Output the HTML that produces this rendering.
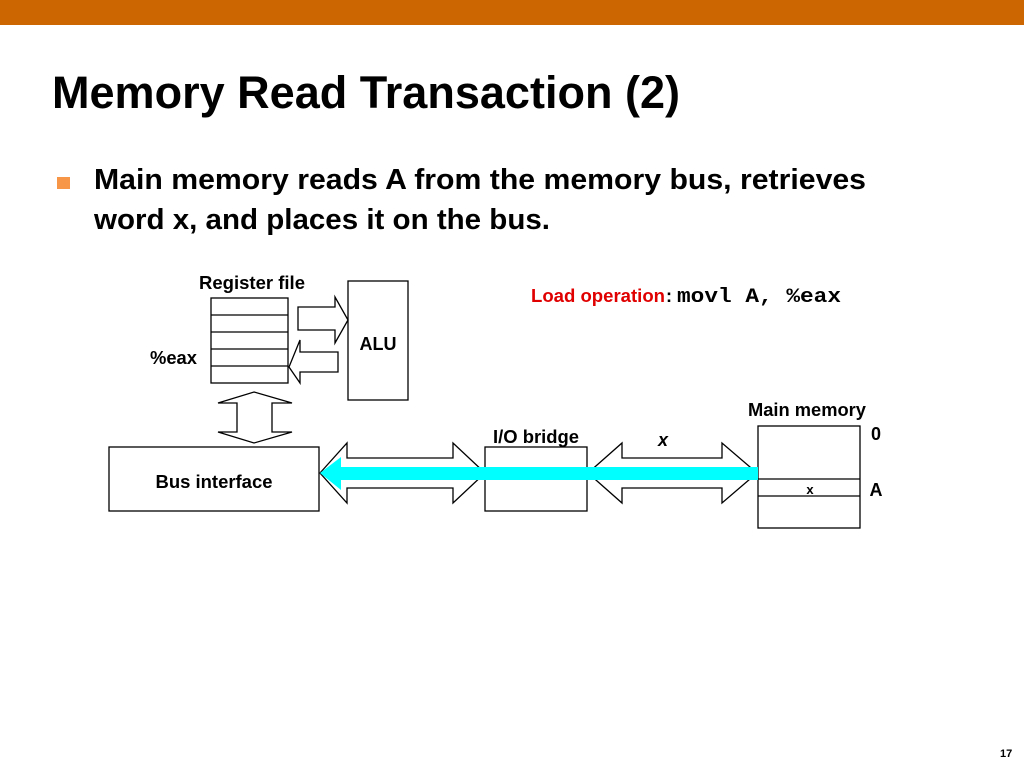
<!DOCTYPE html>
<html><head><meta charset="utf-8"><style>
html,body{margin:0;padding:0;background:#fff;}
svg{display:block;}
text{font-family:"Liberation Sans",Arial,sans-serif;font-weight:bold;}
</style></head><body>
<svg width="1024" height="768" viewBox="0 0 1024 768" xmlns="http://www.w3.org/2000/svg">
<rect x="0" y="0" width="1024" height="25" fill="#cc6600"/>
<text x="52" y="108" font-size="45" textLength="628" lengthAdjust="spacingAndGlyphs">Memory Read Transaction (2)</text>
<rect x="57" y="177" width="13" height="12" fill="#f79646"/>
<text x="94" y="189" font-size="29" textLength="772" lengthAdjust="spacingAndGlyphs">Main memory reads A from the memory bus, retrieves</text>
<text x="94" y="229" font-size="29" textLength="456" lengthAdjust="spacingAndGlyphs">word x, and places it on the bus.</text>

<g fill="none" stroke="#000" stroke-width="1.3">
<rect x="211" y="298" width="77" height="85"/>
<line x1="211" y1="315" x2="288" y2="315"/>
<line x1="211" y1="332" x2="288" y2="332"/>
<line x1="211" y1="349" x2="288" y2="349"/>
<line x1="211" y1="366" x2="288" y2="366"/>
<rect x="348" y="281" width="60" height="119"/>
<polygon points="298,307 335,307 335,297 348,320 335,343 335,330 298,330"/>
<polygon points="338,352 300,352 300,340 289,367 300,383 300,372 338,372"/>
<polygon points="254,392 292,403 272,403 272,432 292,432 254,443 218,432 237,432 237,403 218,403"/>
<rect x="109" y="447" width="210" height="64"/>
<polygon points="320,473 347,443 347,458 453,458 453,443 485,473 453,503 453,488 347,488 347,503"/>
<rect x="485" y="447" width="102" height="64"/>
<polygon points="588,473 622,443 622,458 722,458 722,443 757,473 722,503 722,488 622,488 622,503"/>
<rect x="758" y="426" width="102" height="102"/>
<line x1="758" y1="479" x2="860" y2="479"/>
<line x1="758" y1="496" x2="860" y2="496"/>
</g>
<rect x="338" y="467" width="420" height="13" fill="#00ffff"/>
<polygon points="320,473 341,457 341,490" fill="#00ffff"/>

<g font-size="18">
<text x="252" y="289" text-anchor="middle" textLength="106" lengthAdjust="spacingAndGlyphs">Register file</text>
<text x="150" y="364" textLength="47" lengthAdjust="spacingAndGlyphs">%eax</text>
<text x="378" y="350" text-anchor="middle">ALU</text>
<text x="214" y="488" text-anchor="middle" textLength="117" lengthAdjust="spacingAndGlyphs">Bus interface</text>
<text x="536" y="443" text-anchor="middle" textLength="86" lengthAdjust="spacingAndGlyphs">I/O bridge</text>
<text x="663" y="446" text-anchor="middle" font-style="italic">x</text>
<text x="807" y="416" text-anchor="middle" textLength="118" lengthAdjust="spacingAndGlyphs">Main memory</text>
<text x="876" y="440" text-anchor="middle">0</text>
<text x="876" y="496" text-anchor="middle">A</text>
<text x="531" y="302" fill="#e00000" textLength="134" lengthAdjust="spacingAndGlyphs">Load operation</text>
<text x="666" y="302">:</text>
<text x="677" y="302" textLength="164" lengthAdjust="spacingAndGlyphs" style="font-family:'Liberation Mono',monospace;font-weight:bold;font-size:20px">movl A, %eax</text>
</g>
<text x="810" y="494" text-anchor="middle" font-size="13">x</text>
<text x="1000" y="757" font-size="11">17</text>
</svg>
</body></html>
